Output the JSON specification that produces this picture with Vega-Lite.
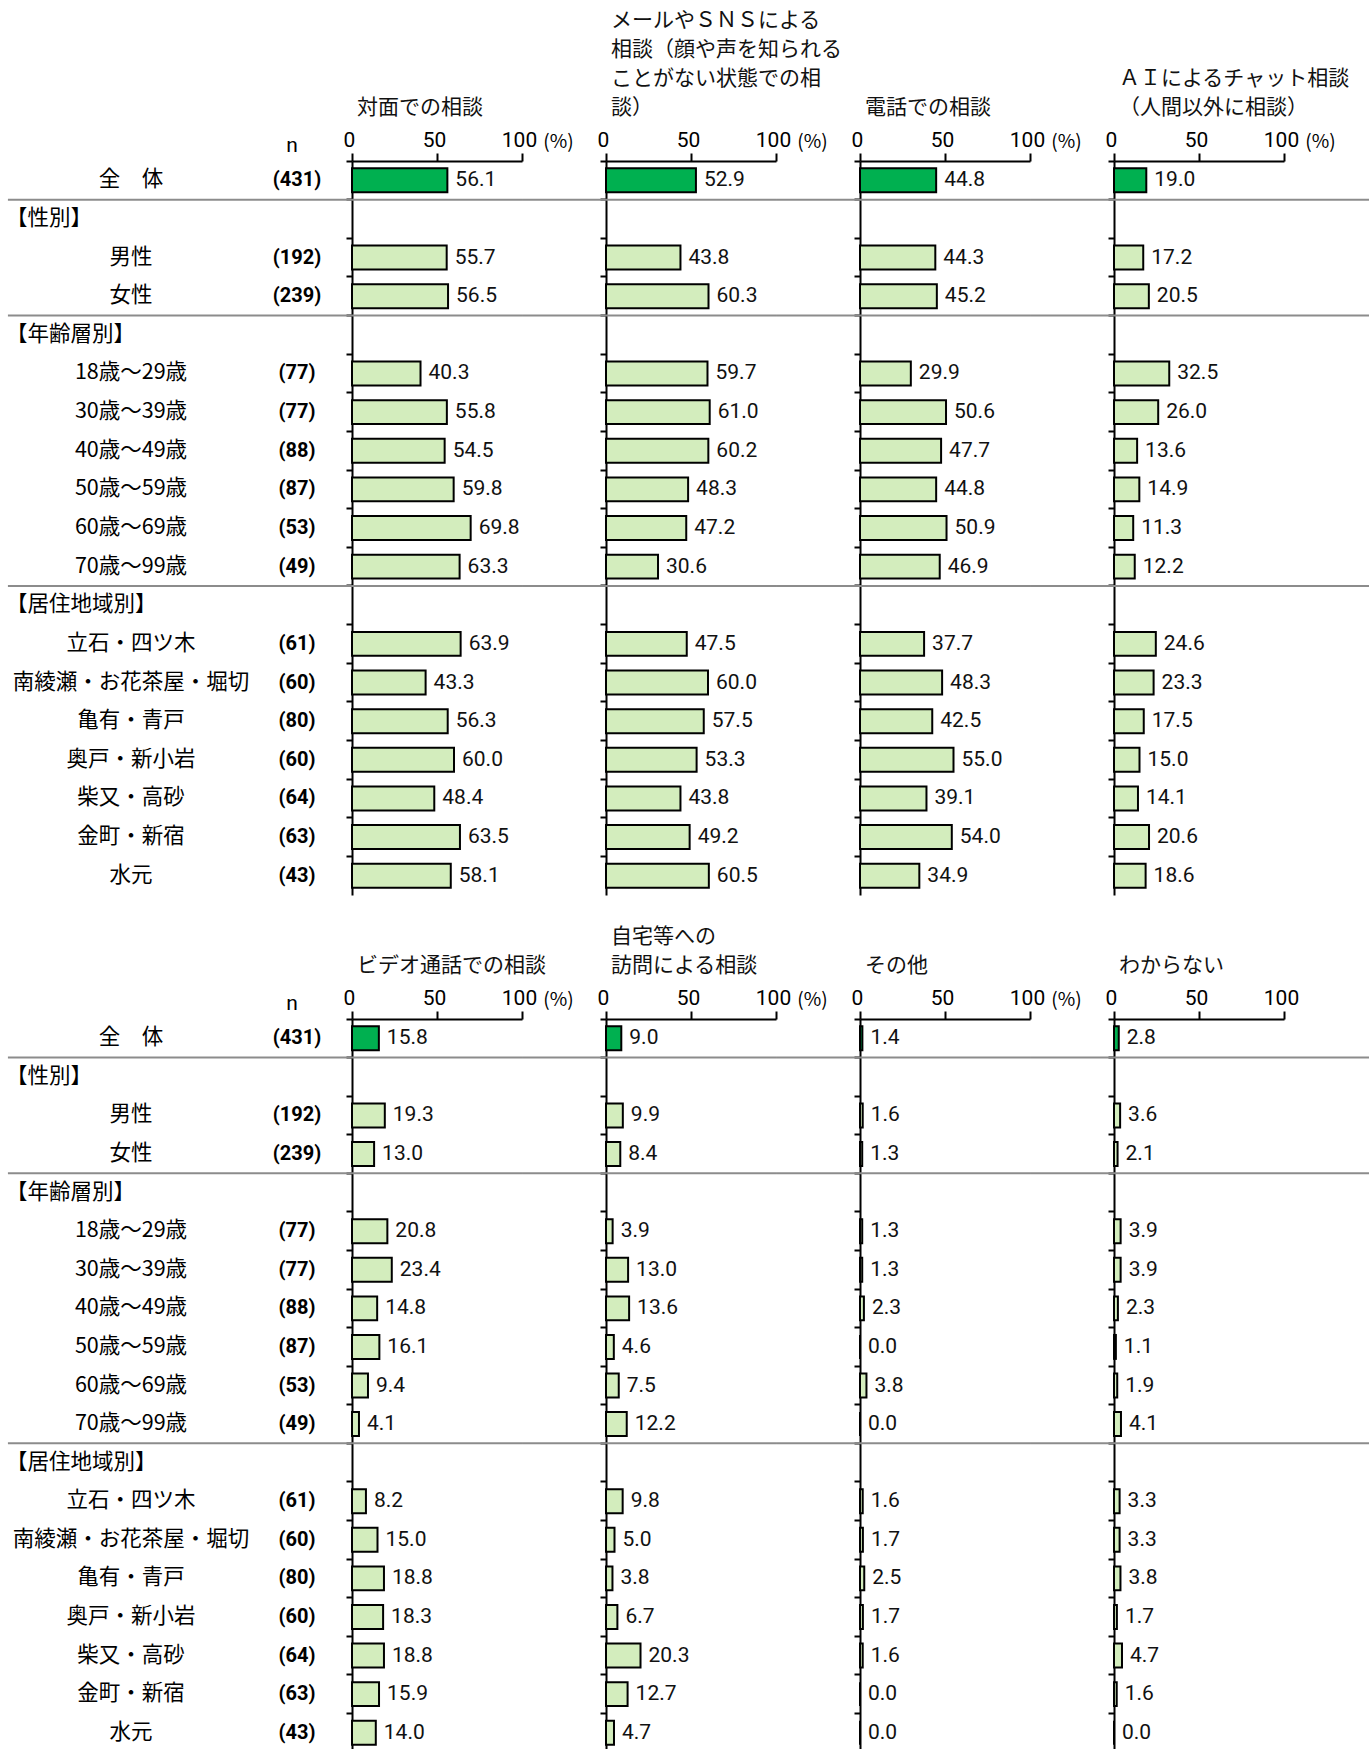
{
"$schema": "https://vega.github.io/schema/vega-lite/v6.json",
"padding": {"left": 0, "right": 0, "top": 10, "bottom": 0},
"autosize": {"type": "pad"},
"spacing": 31,
"datasets": {
"rows": [
{"row": "全　体", "kind": "item", "n": "(431)"},
{"row": "【性別】", "kind": "header", "n": ""},
{"row": "男性", "kind": "item", "n": "(192)"},
{"row": "女性", "kind": "item", "n": "(239)"},
{"row": "【年齢層別】", "kind": "header", "n": ""},
{"row": "18歳～29歳", "kind": "item", "n": "(77)"},
{"row": "30歳～39歳", "kind": "item", "n": "(77)"},
{"row": "40歳～49歳", "kind": "item", "n": "(88)"},
{"row": "50歳～59歳", "kind": "item", "n": "(87)"},
{"row": "60歳～69歳", "kind": "item", "n": "(53)"},
{"row": "70歳～99歳", "kind": "item", "n": "(49)"},
{"row": "【居住地域別】", "kind": "header", "n": ""},
{"row": "立石・四ツ木", "kind": "item", "n": "(61)"},
{"row": "南綾瀬・お花茶屋・堀切", "kind": "item", "n": "(60)"},
{"row": "亀有・青戸", "kind": "item", "n": "(80)"},
{"row": "奥戸・新小岩", "kind": "item", "n": "(60)"},
{"row": "柴又・高砂", "kind": "item", "n": "(64)"},
{"row": "金町・新宿", "kind": "item", "n": "(63)"},
{"row": "水元", "kind": "item", "n": "(43)"}
],
"seps": [{"row": "【性別】"}, {"row": "【年齢層別】"}, {"row": "【居住地域別】"}],
"survey": [
{"method": "対面", "row": "全　体", "value": 56.1},
{"method": "対面", "row": "男性", "value": 55.7},
{"method": "対面", "row": "女性", "value": 56.5},
{"method": "対面", "row": "18歳～29歳", "value": 40.3},
{"method": "対面", "row": "30歳～39歳", "value": 55.8},
{"method": "対面", "row": "40歳～49歳", "value": 54.5},
{"method": "対面", "row": "50歳～59歳", "value": 59.8},
{"method": "対面", "row": "60歳～69歳", "value": 69.8},
{"method": "対面", "row": "70歳～99歳", "value": 63.3},
{"method": "対面", "row": "立石・四ツ木", "value": 63.9},
{"method": "対面", "row": "南綾瀬・お花茶屋・堀切", "value": 43.3},
{"method": "対面", "row": "亀有・青戸", "value": 56.3},
{"method": "対面", "row": "奥戸・新小岩", "value": 60.0},
{"method": "対面", "row": "柴又・高砂", "value": 48.4},
{"method": "対面", "row": "金町・新宿", "value": 63.5},
{"method": "対面", "row": "水元", "value": 58.1},
{"method": "メール", "row": "全　体", "value": 52.9},
{"method": "メール", "row": "男性", "value": 43.8},
{"method": "メール", "row": "女性", "value": 60.3},
{"method": "メール", "row": "18歳～29歳", "value": 59.7},
{"method": "メール", "row": "30歳～39歳", "value": 61.0},
{"method": "メール", "row": "40歳～49歳", "value": 60.2},
{"method": "メール", "row": "50歳～59歳", "value": 48.3},
{"method": "メール", "row": "60歳～69歳", "value": 47.2},
{"method": "メール", "row": "70歳～99歳", "value": 30.6},
{"method": "メール", "row": "立石・四ツ木", "value": 47.5},
{"method": "メール", "row": "南綾瀬・お花茶屋・堀切", "value": 60.0},
{"method": "メール", "row": "亀有・青戸", "value": 57.5},
{"method": "メール", "row": "奥戸・新小岩", "value": 53.3},
{"method": "メール", "row": "柴又・高砂", "value": 43.8},
{"method": "メール", "row": "金町・新宿", "value": 49.2},
{"method": "メール", "row": "水元", "value": 60.5},
{"method": "電話", "row": "全　体", "value": 44.8},
{"method": "電話", "row": "男性", "value": 44.3},
{"method": "電話", "row": "女性", "value": 45.2},
{"method": "電話", "row": "18歳～29歳", "value": 29.9},
{"method": "電話", "row": "30歳～39歳", "value": 50.6},
{"method": "電話", "row": "40歳～49歳", "value": 47.7},
{"method": "電話", "row": "50歳～59歳", "value": 44.8},
{"method": "電話", "row": "60歳～69歳", "value": 50.9},
{"method": "電話", "row": "70歳～99歳", "value": 46.9},
{"method": "電話", "row": "立石・四ツ木", "value": 37.7},
{"method": "電話", "row": "南綾瀬・お花茶屋・堀切", "value": 48.3},
{"method": "電話", "row": "亀有・青戸", "value": 42.5},
{"method": "電話", "row": "奥戸・新小岩", "value": 55.0},
{"method": "電話", "row": "柴又・高砂", "value": 39.1},
{"method": "電話", "row": "金町・新宿", "value": 54.0},
{"method": "電話", "row": "水元", "value": 34.9},
{"method": "AI", "row": "全　体", "value": 19.0},
{"method": "AI", "row": "男性", "value": 17.2},
{"method": "AI", "row": "女性", "value": 20.5},
{"method": "AI", "row": "18歳～29歳", "value": 32.5},
{"method": "AI", "row": "30歳～39歳", "value": 26.0},
{"method": "AI", "row": "40歳～49歳", "value": 13.6},
{"method": "AI", "row": "50歳～59歳", "value": 14.9},
{"method": "AI", "row": "60歳～69歳", "value": 11.3},
{"method": "AI", "row": "70歳～99歳", "value": 12.2},
{"method": "AI", "row": "立石・四ツ木", "value": 24.6},
{"method": "AI", "row": "南綾瀬・お花茶屋・堀切", "value": 23.3},
{"method": "AI", "row": "亀有・青戸", "value": 17.5},
{"method": "AI", "row": "奥戸・新小岩", "value": 15.0},
{"method": "AI", "row": "柴又・高砂", "value": 14.1},
{"method": "AI", "row": "金町・新宿", "value": 20.6},
{"method": "AI", "row": "水元", "value": 18.6},
{"method": "ビデオ", "row": "全　体", "value": 15.8},
{"method": "ビデオ", "row": "男性", "value": 19.3},
{"method": "ビデオ", "row": "女性", "value": 13.0},
{"method": "ビデオ", "row": "18歳～29歳", "value": 20.8},
{"method": "ビデオ", "row": "30歳～39歳", "value": 23.4},
{"method": "ビデオ", "row": "40歳～49歳", "value": 14.8},
{"method": "ビデオ", "row": "50歳～59歳", "value": 16.1},
{"method": "ビデオ", "row": "60歳～69歳", "value": 9.4},
{"method": "ビデオ", "row": "70歳～99歳", "value": 4.1},
{"method": "ビデオ", "row": "立石・四ツ木", "value": 8.2},
{"method": "ビデオ", "row": "南綾瀬・お花茶屋・堀切", "value": 15.0},
{"method": "ビデオ", "row": "亀有・青戸", "value": 18.8},
{"method": "ビデオ", "row": "奥戸・新小岩", "value": 18.3},
{"method": "ビデオ", "row": "柴又・高砂", "value": 18.8},
{"method": "ビデオ", "row": "金町・新宿", "value": 15.9},
{"method": "ビデオ", "row": "水元", "value": 14.0},
{"method": "訪問", "row": "全　体", "value": 9.0},
{"method": "訪問", "row": "男性", "value": 9.9},
{"method": "訪問", "row": "女性", "value": 8.4},
{"method": "訪問", "row": "18歳～29歳", "value": 3.9},
{"method": "訪問", "row": "30歳～39歳", "value": 13.0},
{"method": "訪問", "row": "40歳～49歳", "value": 13.6},
{"method": "訪問", "row": "50歳～59歳", "value": 4.6},
{"method": "訪問", "row": "60歳～69歳", "value": 7.5},
{"method": "訪問", "row": "70歳～99歳", "value": 12.2},
{"method": "訪問", "row": "立石・四ツ木", "value": 9.8},
{"method": "訪問", "row": "南綾瀬・お花茶屋・堀切", "value": 5.0},
{"method": "訪問", "row": "亀有・青戸", "value": 3.8},
{"method": "訪問", "row": "奥戸・新小岩", "value": 6.7},
{"method": "訪問", "row": "柴又・高砂", "value": 20.3},
{"method": "訪問", "row": "金町・新宿", "value": 12.7},
{"method": "訪問", "row": "水元", "value": 4.7},
{"method": "その他", "row": "全　体", "value": 1.4},
{"method": "その他", "row": "男性", "value": 1.6},
{"method": "その他", "row": "女性", "value": 1.3},
{"method": "その他", "row": "18歳～29歳", "value": 1.3},
{"method": "その他", "row": "30歳～39歳", "value": 1.3},
{"method": "その他", "row": "40歳～49歳", "value": 2.3},
{"method": "その他", "row": "50歳～59歳", "value": 0.0},
{"method": "その他", "row": "60歳～69歳", "value": 3.8},
{"method": "その他", "row": "70歳～99歳", "value": 0.0},
{"method": "その他", "row": "立石・四ツ木", "value": 1.6},
{"method": "その他", "row": "南綾瀬・お花茶屋・堀切", "value": 1.7},
{"method": "その他", "row": "亀有・青戸", "value": 2.5},
{"method": "その他", "row": "奥戸・新小岩", "value": 1.7},
{"method": "その他", "row": "柴又・高砂", "value": 1.6},
{"method": "その他", "row": "金町・新宿", "value": 0.0},
{"method": "その他", "row": "水元", "value": 0.0},
{"method": "わからない", "row": "全　体", "value": 2.8},
{"method": "わからない", "row": "男性", "value": 3.6},
{"method": "わからない", "row": "女性", "value": 2.1},
{"method": "わからない", "row": "18歳～29歳", "value": 3.9},
{"method": "わからない", "row": "30歳～39歳", "value": 3.9},
{"method": "わからない", "row": "40歳～49歳", "value": 2.3},
{"method": "わからない", "row": "50歳～59歳", "value": 1.1},
{"method": "わからない", "row": "60歳～69歳", "value": 1.9},
{"method": "わからない", "row": "70歳～99歳", "value": 4.1},
{"method": "わからない", "row": "立石・四ツ木", "value": 3.3},
{"method": "わからない", "row": "南綾瀬・お花茶屋・堀切", "value": 3.3},
{"method": "わからない", "row": "亀有・青戸", "value": 3.8},
{"method": "わからない", "row": "奥戸・新小岩", "value": 1.7},
{"method": "わからない", "row": "柴又・高砂", "value": 4.7},
{"method": "わからない", "row": "金町・新宿", "value": 1.6},
{"method": "わからない", "row": "水元", "value": 0.0}
]
},
"vconcat": [
{
"bounds": "flush",
"spacing": 84,
"hconcat": [
{
"width": 268, "height": 734,
"title": {"text": "n", "anchor": "end", "frame": "group", "align": "center", "dx": 24, "dy": 22, "baseline": "alphabetic", "offset": 10, "font": "Roboto", "fontSize": 21, "color": "#000"},
"data": {"name": "rows"},
"layer": [
{"transform": [{"filter": "datum.kind === 'header'"}], "mark": {"type": "text", "align": "left", "baseline": "middle", "font": "Noto Sans CJK JP", "fontSize": 21.5, "color": "#000"}, "encoding": {"x": {"value": 6}, "y": {"field": "row", "type": "nominal", "scale": {"domain": ["全　体","【性別】","男性","女性","【年齢層別】","18歳～29歳","30歳～39歳","40歳～49歳","50歳～59歳","60歳～69歳","70歳～99歳","【居住地域別】","立石・四ツ木","南綾瀬・お花茶屋・堀切","亀有・青戸","奥戸・新小岩","柴又・高砂","金町・新宿","水元"]}, "axis": null}, "text": {"field": "row"}}},
{"transform": [{"filter": "datum.kind === 'item'"}], "mark": {"type": "text", "align": "center", "baseline": "middle", "font": "Noto Sans CJK JP", "fontSize": 21.5, "color": "#000"}, "encoding": {"x": {"value": 131}, "y": {"field": "row", "type": "nominal", "axis": null}, "text": {"field": "row"}}},
{"transform": [{"filter": "datum.kind === 'item'"}], "mark": {"type": "text", "align": "center", "baseline": "middle", "font": "Roboto", "fontWeight": "bold", "fontSize": 20, "color": "#000"}, "encoding": {"x": {"value": 297}, "y": {"field": "row", "type": "nominal", "axis": null}, "text": {"field": "n"}}}
]
},
{
"width": 170, "height": 734,
"title": {"text": ["対面での相談"]},
"layer": [
{"data": {"name": "seps"}, "mark": "rule", "encoding": {"y": {"field": "row", "type": "nominal", "bandPosition": 0, "title": null}, "x": {"datum": -202.4, "type": "quantitative", "scale": {"domain": [0, 100]}}, "x2": {"datum": 100}}},
{"data": {"name": "survey"}, "transform": [{"filter": "datum.method === '対面'"}], "mark": "bar", "encoding": {"y": {"field": "row", "type": "nominal", "title": null, "scale": {"domain": ["全　体","【性別】","男性","女性","【年齢層別】","18歳～29歳","30歳～39歳","40歳～49歳","50歳～59歳","60歳～69歳","70歳～99歳","【居住地域別】","立石・四ツ木","南綾瀬・お花茶屋・堀切","亀有・青戸","奥戸・新小岩","柴又・高砂","金町・新宿","水元"], "paddingInner": 0, "paddingOuter": 0}, "axis": {"orient": "left"}}, "x": {"field": "value", "type": "quantitative", "scale": {"domain": [0, 100]}, "axis": {"orient": "top", "values": [0, 50, 100], "title": "(%)"}}, "fill": {"condition": {"test": "datum.row === '全　体'", "value": "#00b050"}, "value": "#d3edbd"}}},
{"data": {"name": "survey"}, "transform": [{"filter": "datum.method === '対面'"}], "mark": {"type": "text", "align": "left", "baseline": "middle", "dx": 8, "font": "Roboto", "fontSize": 21, "color": "#111"}, "encoding": {"y": {"field": "row", "type": "nominal", "title": null}, "x": {"field": "value", "type": "quantitative", "title": "(%)"}, "text": {"field": "value", "type": "quantitative", "format": ".1f"}}}
]
},
{
"width": 170, "height": 734,
"title": {"text": ["メールやＳＮＳによる", "相談（顔や声を知られる", "ことがない状態での相", "談）"]},
"layer": [
{"data": {"name": "seps"}, "mark": "rule", "encoding": {"y": {"field": "row", "type": "nominal", "bandPosition": 0, "title": null}, "x": {"datum": -49.4, "type": "quantitative", "scale": {"domain": [0, 100]}}, "x2": {"datum": 100}}},
{"data": {"name": "survey"}, "transform": [{"filter": "datum.method === 'メール'"}], "mark": "bar", "encoding": {"y": {"field": "row", "type": "nominal", "title": null, "scale": {"domain": ["全　体","【性別】","男性","女性","【年齢層別】","18歳～29歳","30歳～39歳","40歳～49歳","50歳～59歳","60歳～69歳","70歳～99歳","【居住地域別】","立石・四ツ木","南綾瀬・お花茶屋・堀切","亀有・青戸","奥戸・新小岩","柴又・高砂","金町・新宿","水元"], "paddingInner": 0, "paddingOuter": 0}, "axis": {"orient": "left"}}, "x": {"field": "value", "type": "quantitative", "scale": {"domain": [0, 100]}, "axis": {"orient": "top", "values": [0, 50, 100], "title": "(%)"}}, "fill": {"condition": {"test": "datum.row === '全　体'", "value": "#00b050"}, "value": "#d3edbd"}}},
{"data": {"name": "survey"}, "transform": [{"filter": "datum.method === 'メール'"}], "mark": {"type": "text", "align": "left", "baseline": "middle", "dx": 8, "font": "Roboto", "fontSize": 21, "color": "#111"}, "encoding": {"y": {"field": "row", "type": "nominal", "title": null}, "x": {"field": "value", "type": "quantitative", "title": "(%)"}, "text": {"field": "value", "type": "quantitative", "format": ".1f"}}}
]
},
{
"width": 170, "height": 734,
"title": {"text": ["電話での相談"]},
"layer": [
{"data": {"name": "seps"}, "mark": "rule", "encoding": {"y": {"field": "row", "type": "nominal", "bandPosition": 0, "title": null}, "x": {"datum": -49.4, "type": "quantitative", "scale": {"domain": [0, 100]}}, "x2": {"datum": 100}}},
{"data": {"name": "survey"}, "transform": [{"filter": "datum.method === '電話'"}], "mark": "bar", "encoding": {"y": {"field": "row", "type": "nominal", "title": null, "scale": {"domain": ["全　体","【性別】","男性","女性","【年齢層別】","18歳～29歳","30歳～39歳","40歳～49歳","50歳～59歳","60歳～69歳","70歳～99歳","【居住地域別】","立石・四ツ木","南綾瀬・お花茶屋・堀切","亀有・青戸","奥戸・新小岩","柴又・高砂","金町・新宿","水元"], "paddingInner": 0, "paddingOuter": 0}, "axis": {"orient": "left"}}, "x": {"field": "value", "type": "quantitative", "scale": {"domain": [0, 100]}, "axis": {"orient": "top", "values": [0, 50, 100], "title": "(%)"}}, "fill": {"condition": {"test": "datum.row === '全　体'", "value": "#00b050"}, "value": "#d3edbd"}}},
{"data": {"name": "survey"}, "transform": [{"filter": "datum.method === '電話'"}], "mark": {"type": "text", "align": "left", "baseline": "middle", "dx": 8, "font": "Roboto", "fontSize": 21, "color": "#111"}, "encoding": {"y": {"field": "row", "type": "nominal", "title": null}, "x": {"field": "value", "type": "quantitative", "title": "(%)"}, "text": {"field": "value", "type": "quantitative", "format": ".1f"}}}
]
},
{
"width": 170, "height": 734,
"title": {"text": ["ＡＩによるチャット相談", "（人間以外に相談）"]},
"layer": [
{"data": {"name": "seps"}, "mark": "rule", "encoding": {"y": {"field": "row", "type": "nominal", "bandPosition": 0, "title": null}, "x": {"datum": -49.4, "type": "quantitative", "scale": {"domain": [0, 100]}}, "x2": {"datum": 150}}},
{"data": {"name": "survey"}, "transform": [{"filter": "datum.method === 'AI'"}], "mark": "bar", "encoding": {"y": {"field": "row", "type": "nominal", "title": null, "scale": {"domain": ["全　体","【性別】","男性","女性","【年齢層別】","18歳～29歳","30歳～39歳","40歳～49歳","50歳～59歳","60歳～69歳","70歳～99歳","【居住地域別】","立石・四ツ木","南綾瀬・お花茶屋・堀切","亀有・青戸","奥戸・新小岩","柴又・高砂","金町・新宿","水元"], "paddingInner": 0, "paddingOuter": 0}, "axis": {"orient": "left"}}, "x": {"field": "value", "type": "quantitative", "scale": {"domain": [0, 100]}, "axis": {"orient": "top", "values": [0, 50, 100], "title": "(%)"}}, "fill": {"condition": {"test": "datum.row === '全　体'", "value": "#00b050"}, "value": "#d3edbd"}}},
{"data": {"name": "survey"}, "transform": [{"filter": "datum.method === 'AI'"}], "mark": {"type": "text", "align": "left", "baseline": "middle", "dx": 8, "font": "Roboto", "fontSize": 21, "color": "#111"}, "encoding": {"y": {"field": "row", "type": "nominal", "title": null}, "x": {"field": "value", "type": "quantitative", "title": "(%)"}, "text": {"field": "value", "type": "quantitative", "format": ".1f"}}}
]
}
]
},
{
"bounds": "flush",
"spacing": 84,
"hconcat": [
{
"width": 268, "height": 733,
"title": {"text": "n", "anchor": "end", "frame": "group", "align": "center", "dx": 24, "dy": 22, "baseline": "alphabetic", "offset": 10, "font": "Roboto", "fontSize": 21, "color": "#000"},
"data": {"name": "rows"},
"layer": [
{"transform": [{"filter": "datum.kind === 'header'"}], "mark": {"type": "text", "align": "left", "baseline": "middle", "font": "Noto Sans CJK JP", "fontSize": 21.5, "color": "#000"}, "encoding": {"x": {"value": 6}, "y": {"field": "row", "type": "nominal", "scale": {"domain": ["全　体","【性別】","男性","女性","【年齢層別】","18歳～29歳","30歳～39歳","40歳～49歳","50歳～59歳","60歳～69歳","70歳～99歳","【居住地域別】","立石・四ツ木","南綾瀬・お花茶屋・堀切","亀有・青戸","奥戸・新小岩","柴又・高砂","金町・新宿","水元"]}, "axis": null}, "text": {"field": "row"}}},
{"transform": [{"filter": "datum.kind === 'item'"}], "mark": {"type": "text", "align": "center", "baseline": "middle", "font": "Noto Sans CJK JP", "fontSize": 21.5, "color": "#000"}, "encoding": {"x": {"value": 131}, "y": {"field": "row", "type": "nominal", "axis": null}, "text": {"field": "row"}}},
{"transform": [{"filter": "datum.kind === 'item'"}], "mark": {"type": "text", "align": "center", "baseline": "middle", "font": "Roboto", "fontWeight": "bold", "fontSize": 20, "color": "#000"}, "encoding": {"x": {"value": 297}, "y": {"field": "row", "type": "nominal", "axis": null}, "text": {"field": "n"}}}
]
},
{
"width": 170, "height": 733,
"title": {"text": ["ビデオ通話での相談"]},
"layer": [
{"data": {"name": "seps"}, "mark": "rule", "encoding": {"y": {"field": "row", "type": "nominal", "bandPosition": 0, "title": null}, "x": {"datum": -202.4, "type": "quantitative", "scale": {"domain": [0, 100]}}, "x2": {"datum": 100}}},
{"data": {"name": "survey"}, "transform": [{"filter": "datum.method === 'ビデオ'"}], "mark": "bar", "encoding": {"y": {"field": "row", "type": "nominal", "title": null, "scale": {"domain": ["全　体","【性別】","男性","女性","【年齢層別】","18歳～29歳","30歳～39歳","40歳～49歳","50歳～59歳","60歳～69歳","70歳～99歳","【居住地域別】","立石・四ツ木","南綾瀬・お花茶屋・堀切","亀有・青戸","奥戸・新小岩","柴又・高砂","金町・新宿","水元"], "paddingInner": 0, "paddingOuter": 0}, "axis": {"orient": "left"}}, "x": {"field": "value", "type": "quantitative", "scale": {"domain": [0, 100]}, "axis": {"orient": "top", "values": [0, 50, 100], "title": "(%)"}}, "fill": {"condition": {"test": "datum.row === '全　体'", "value": "#00b050"}, "value": "#d3edbd"}}},
{"data": {"name": "survey"}, "transform": [{"filter": "datum.method === 'ビデオ'"}], "mark": {"type": "text", "align": "left", "baseline": "middle", "dx": 8, "font": "Roboto", "fontSize": 21, "color": "#111"}, "encoding": {"y": {"field": "row", "type": "nominal", "title": null}, "x": {"field": "value", "type": "quantitative", "title": "(%)"}, "text": {"field": "value", "type": "quantitative", "format": ".1f"}}}
]
},
{
"width": 170, "height": 733,
"title": {"text": ["自宅等への", "訪問による相談"]},
"layer": [
{"data": {"name": "seps"}, "mark": "rule", "encoding": {"y": {"field": "row", "type": "nominal", "bandPosition": 0, "title": null}, "x": {"datum": -49.4, "type": "quantitative", "scale": {"domain": [0, 100]}}, "x2": {"datum": 100}}},
{"data": {"name": "survey"}, "transform": [{"filter": "datum.method === '訪問'"}], "mark": "bar", "encoding": {"y": {"field": "row", "type": "nominal", "title": null, "scale": {"domain": ["全　体","【性別】","男性","女性","【年齢層別】","18歳～29歳","30歳～39歳","40歳～49歳","50歳～59歳","60歳～69歳","70歳～99歳","【居住地域別】","立石・四ツ木","南綾瀬・お花茶屋・堀切","亀有・青戸","奥戸・新小岩","柴又・高砂","金町・新宿","水元"], "paddingInner": 0, "paddingOuter": 0}, "axis": {"orient": "left"}}, "x": {"field": "value", "type": "quantitative", "scale": {"domain": [0, 100]}, "axis": {"orient": "top", "values": [0, 50, 100], "title": "(%)"}}, "fill": {"condition": {"test": "datum.row === '全　体'", "value": "#00b050"}, "value": "#d3edbd"}}},
{"data": {"name": "survey"}, "transform": [{"filter": "datum.method === '訪問'"}], "mark": {"type": "text", "align": "left", "baseline": "middle", "dx": 8, "font": "Roboto", "fontSize": 21, "color": "#111"}, "encoding": {"y": {"field": "row", "type": "nominal", "title": null}, "x": {"field": "value", "type": "quantitative", "title": "(%)"}, "text": {"field": "value", "type": "quantitative", "format": ".1f"}}}
]
},
{
"width": 170, "height": 733,
"title": {"text": ["その他"]},
"layer": [
{"data": {"name": "seps"}, "mark": "rule", "encoding": {"y": {"field": "row", "type": "nominal", "bandPosition": 0, "title": null}, "x": {"datum": -49.4, "type": "quantitative", "scale": {"domain": [0, 100]}}, "x2": {"datum": 100}}},
{"data": {"name": "survey"}, "transform": [{"filter": "datum.method === 'その他'"}], "mark": "bar", "encoding": {"y": {"field": "row", "type": "nominal", "title": null, "scale": {"domain": ["全　体","【性別】","男性","女性","【年齢層別】","18歳～29歳","30歳～39歳","40歳～49歳","50歳～59歳","60歳～69歳","70歳～99歳","【居住地域別】","立石・四ツ木","南綾瀬・お花茶屋・堀切","亀有・青戸","奥戸・新小岩","柴又・高砂","金町・新宿","水元"], "paddingInner": 0, "paddingOuter": 0}, "axis": {"orient": "left"}}, "x": {"field": "value", "type": "quantitative", "scale": {"domain": [0, 100]}, "axis": {"orient": "top", "values": [0, 50, 100], "title": "(%)"}}, "fill": {"condition": {"test": "datum.row === '全　体'", "value": "#00b050"}, "value": "#d3edbd"}}},
{"data": {"name": "survey"}, "transform": [{"filter": "datum.method === 'その他'"}], "mark": {"type": "text", "align": "left", "baseline": "middle", "dx": 8, "font": "Roboto", "fontSize": 21, "color": "#111"}, "encoding": {"y": {"field": "row", "type": "nominal", "title": null}, "x": {"field": "value", "type": "quantitative", "title": "(%)"}, "text": {"field": "value", "type": "quantitative", "format": ".1f"}}}
]
},
{
"width": 170, "height": 733,
"title": {"text": ["わからない"]},
"layer": [
{"data": {"name": "seps"}, "mark": "rule", "encoding": {"y": {"field": "row", "type": "nominal", "bandPosition": 0, "title": null}, "x": {"datum": -49.4, "type": "quantitative", "scale": {"domain": [0, 100]}}, "x2": {"datum": 150}}},
{"data": {"name": "survey"}, "transform": [{"filter": "datum.method === 'わからない'"}], "mark": "bar", "encoding": {"y": {"field": "row", "type": "nominal", "title": null, "scale": {"domain": ["全　体","【性別】","男性","女性","【年齢層別】","18歳～29歳","30歳～39歳","40歳～49歳","50歳～59歳","60歳～69歳","70歳～99歳","【居住地域別】","立石・四ツ木","南綾瀬・お花茶屋・堀切","亀有・青戸","奥戸・新小岩","柴又・高砂","金町・新宿","水元"], "paddingInner": 0, "paddingOuter": 0}, "axis": {"orient": "left"}}, "x": {"field": "value", "type": "quantitative", "scale": {"domain": [0, 100]}, "axis": {"orient": "top", "values": [0, 50, 100], "title": null}}, "fill": {"condition": {"test": "datum.row === '全　体'", "value": "#00b050"}, "value": "#d3edbd"}}},
{"data": {"name": "survey"}, "transform": [{"filter": "datum.method === 'わからない'"}], "mark": {"type": "text", "align": "left", "baseline": "middle", "dx": 8, "font": "Roboto", "fontSize": 21, "color": "#111"}, "encoding": {"y": {"field": "row", "type": "nominal", "title": null}, "x": {"field": "value", "type": "quantitative", "title": null}, "text": {"field": "value", "type": "quantitative", "format": ".1f"}}}
]
}
]
}
],
"config": {
"view": {"stroke": null},
"axisX": {"domainColor": "#000", "domainWidth": 2, "tickColor": "#000", "tickWidth": 2, "tickSize": 8, "labelFont": "Roboto", "labelFontSize": 21, "labelColor": "#000", "labelPadding": 3, "labelOffset": -3, "labelFlush": false, "labelOverlap": false, "grid": false, "titleFont": "Noto Sans CJK JP", "titleFontSize": 19, "titleFontWeight": "normal", "titleColor": "#000", "titleX": 206, "titleY": -20, "titleAlign": "center", "titleBaseline": "middle", "titleAngle": 0},
"axisY": {"labels": false, "domainColor": "#000", "domainWidth": 2, "tickColor": "#000", "tickWidth": 2, "tickSize": 6, "bandPosition": 0, "grid": false},
"title": {"anchor": "start", "frame": "group", "font": "Noto Sans CJK JP", "fontSize": 21, "fontWeight": "normal", "color": "#111", "baseline": "bottom", "lineHeight": 29, "offset": 11, "dx": 5},
"bar": {"stroke": "#000", "strokeWidth": 2, "height": {"band": 0.62}},
"rule": {"color": "#8c8c8c", "strokeWidth": 2}
}
}
